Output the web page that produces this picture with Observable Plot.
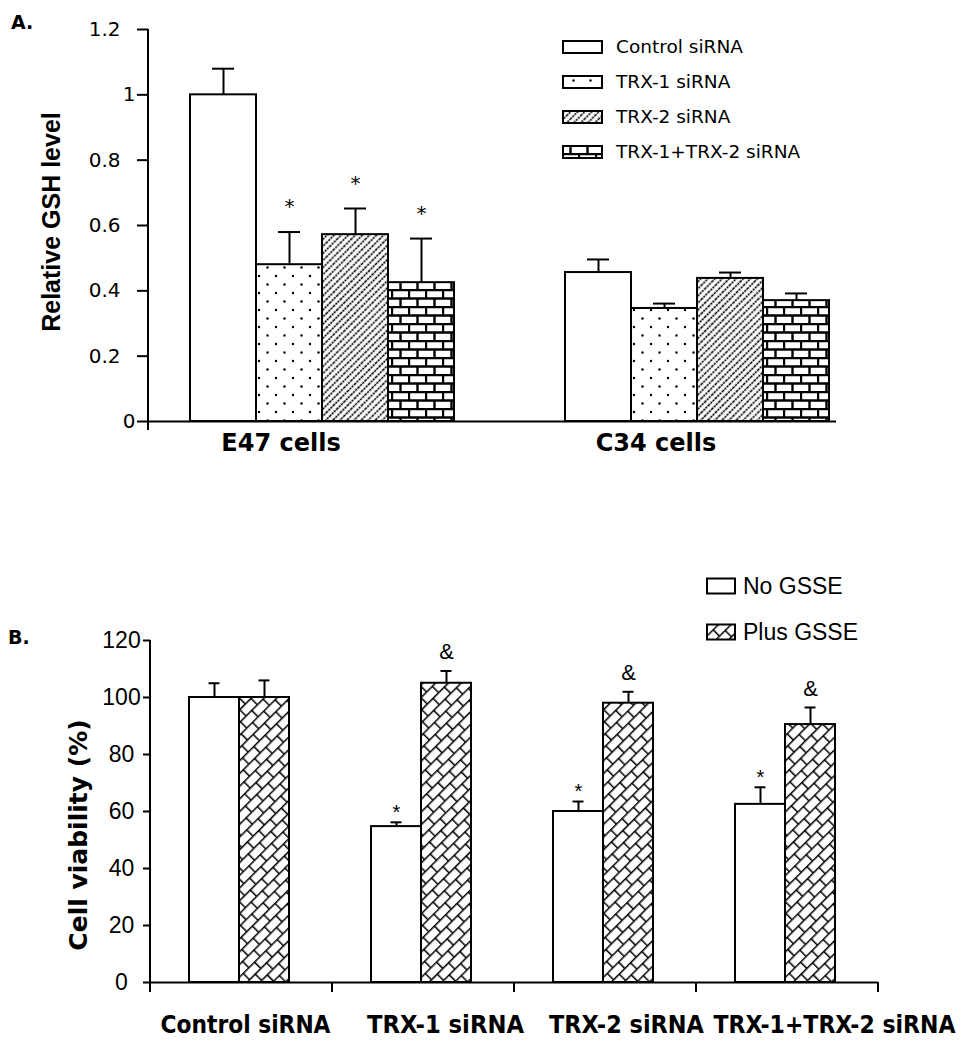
<!DOCTYPE html>
<html><head><meta charset="utf-8">
<script src="https://cdn.jsdelivr.net/npm/d3@7"></script>
<script src="https://cdn.jsdelivr.net/npm/@observablehq/plot@0.6"></script>
<style>
body{margin:0;background:#fff;}
#fig{position:relative;width:963px;height:1050px;overflow:hidden;background:#fff;}
#panelA{position:absolute;left:0;top:0;}
#panelB{position:absolute;left:0;top:540px;}
</style></head><body>
<svg width="0" height="0" style="position:absolute">
<defs>
 <pattern id="pDots" width="17" height="17" patternUnits="userSpaceOnUse">
   <rect width="17" height="17" fill="white"/>
   <circle cx="4" cy="4" r="1.2" fill="black"/>
   <circle cx="12.5" cy="12.5" r="1.2" fill="black"/>
 </pattern>
 <pattern id="pDiag" width="5" height="10" patternUnits="userSpaceOnUse" patternTransform="rotate(45)">
   <rect width="5" height="10" fill="white"/>
   <line x1="2.5" y1="0" x2="2.5" y2="10" stroke="black" stroke-width="1.6" stroke-dasharray="2.2 0.8"/>
 </pattern>
 <pattern id="pBrick" width="17" height="17" patternUnits="userSpaceOnUse">
   <rect width="17" height="17" fill="white"/>
   <path d="M0 1H17M0 9.5H17M1 1V9.5M9.5 9.5V18" stroke="black" stroke-width="2.4" fill="none"/>
 </pattern>
 <pattern id="pZig" width="16" height="18" patternUnits="userSpaceOnUse" patternTransform="rotate(-45)">
   <rect width="16" height="18" fill="white"/>
   <path d="M0 0.75H16M0 9.75H16M0.75 0.75V9.75M8.75 9.75V18.75" stroke="black" stroke-width="1.5" fill="none"/>
 </pattern>
</defs></svg>
<div id="fig"><div id="panelA"></div><div id="panelB"></div></div>
<script>
// ---------- Data: panel A ----------
const sirnas = ["Control siRNA", "TRX-1 siRNA", "TRX-2 siRNA", "TRX-1+TRX-2 siRNA"];
const cellLines = ["E47 cells", "C34 cells"];
const gshE47 = [1.00, 0.48, 0.572, 0.425];
const gshE47Err = [0.08, 0.10, 0.08, 0.135];
const gshE47Sig = ["", "*", "*", "*"];
const gshC34 = [0.456, 0.346, 0.438, 0.370];
const gshC34Err = [0.04, 0.015, 0.018, 0.022];
const gshC34Sig = ["", "", "", ""];
const gshTicks = [0, 0.2, 0.4, 0.6, 0.8, 1, 1.2];

// ---------- Data: panel B ----------
const treatments = ["Control siRNA", "TRX-1 siRNA", "TRX-2 siRNA", "TRX-1+TRX-2 siRNA"];
const gsse = ["No GSSE", "Plus GSSE"];
const viabNo = [100, 54.7, 60, 62.5];
const viabNoErr = [5, 1.5, 3.5, 6];
const viabNoSig = ["", "*", "*", "*"];
const viabPlus = [100, 105, 98, 90.5];
const viabPlusErr = [6, 4.3, 4, 6];
const viabPlusSig = ["", "&", "&", "&"];
const viabTicks = [0, 20, 40, 60, 80, 100, 120];

const rowsA = cellLines.flatMap((cell, ci) => sirnas.map((sirna, i) => ({
  cell, sirna,
  value: [gshE47, gshC34][ci][i],
  err: [gshE47Err, gshC34Err][ci][i],
  sig: [gshE47Sig, gshC34Sig][ci][i]
})));
const rowsB = treatments.flatMap((t, i) => gsse.map((g, gi) => ({
  t, g,
  value: [viabNo, viabPlus][gi][i],
  err: [viabNoErr, viabPlusErr][gi][i],
  sig: [viabNoSig, viabPlusSig][gi][i]
})));

const fillA = {"Control siRNA": "white", "TRX-1 siRNA": "url(#pDots)", "TRX-2 siRNA": "url(#pDiag)", "TRX-1+TRX-2 siRNA": "url(#pBrick)"};
const fillB = {"No GSSE": "white", "Plus GSSE": "url(#pZig)"};
const errTop = d => d.value + d.err;

// ---------- Panel A ----------
const A = Plot.plot({
  width: 963, height: 540,
  marginLeft: 148, marginRight: 65, marginTop: 29, marginBottom: 119,
  style: {fontFamily: "'DejaVu Sans', sans-serif", fontSize: "20px", color: "black", background: "transparent", overflow: "visible"},
  fx: {domain: cellLines, padding: 0, label: null},
  x: {domain: sirnas, paddingInner: 0, paddingOuter: 0.809, align: 0.38, axis: null},
  y: {domain: [0, 1.2]},
  color: {type: "identity"},
  marks: [
    Plot.axisFx({anchor: "bottom", tickSize: 0, tickPadding: 12, fontSize: 24, fontWeight: "bold", dx: -55, label: null}),
    Plot.axisY({ticks: gshTicks.filter(t => t !== 0 && t !== 1), tickSize: 11, tickPadding: 17, tickFormat: d3.format(".1f"), strokeWidth: 2, label: null}),
    Plot.axisY({ticks: gshTicks.filter(t => t === 0 || t === 1), tickSize: 11, tickPadding: 2, tickFormat: d => String(d), strokeWidth: 2, label: null}),
    Plot.barY(rowsA, {fx: "cell", x: "sirna", y: "value", fill: d => fillA[d.sirna], stroke: "black", strokeWidth: 2, inset: 0}),
    Plot.ruleX(rowsA, {fx: "cell", x: "sirna", y1: "value", y2: errTop, stroke: "black", strokeWidth: 2}),
    Plot.tickY(rowsA, {fx: "cell", x: "sirna", y: errTop, inset: 22, stroke: "black", strokeWidth: 2}),
    Plot.text(rowsA.filter(d => d.sig), {fx: "cell", x: "sirna", y: errTop, text: "sig", dy: -25, fontSize: 20, lineAnchor: "middle"}),
    Plot.ruleY([{cell: "E47 cells"}], {fx: "cell", y: () => 0, stroke: "black", strokeWidth: 2}),
    Plot.ruleY([{cell: "C34 cells"}], {fx: "cell", y: () => 0, stroke: "black", strokeWidth: 2, insetRight: 62})
  ]
});
document.getElementById("panelA").appendChild(A);

// ---------- Panel B ----------
const nudgeB = [4, 22, 21, 47];
const maxWidthB = [170, 157, 155, 242];
const B = Plot.plot({
  width: 963, height: 510,
  marginLeft: 149, marginRight: 84, marginTop: 100, marginBottom: 68,
  style: {fontFamily: "'Liberation Sans', Arial, sans-serif", fontSize: "23px", color: "black", background: "transparent", overflow: "visible"},
  fx: {domain: treatments, padding: 0, label: null},
  x: {domain: gsse, paddingInner: 0, paddingOuter: 0.789, align: 0.48, axis: null},
  y: {domain: [0, 120]},
  color: {type: "identity"},
  marks: [
    ...treatments.map((t, i) => Plot.axisFx({ticks: [t], anchor: "bottom", tickSize: 0, tickPadding: 50, lineAnchor: "bottom", fontSize: 30, fontWeight: "bold", fontFamily: "'Liberation Sans Narrow', 'DejaVu Sans Condensed', 'Liberation Sans', sans-serif", dx: nudgeB[i], label: null})),
    Plot.axisY({ticks: viabTicks, tickSize: 7, tickPadding: 22, textAnchor: "middle", strokeWidth: 2, label: null}),
    Plot.barY(rowsB, {fx: "t", x: "g", y: "value", fill: d => fillB[d.g], stroke: "black", strokeWidth: 2, inset: 0}),
    Plot.ruleX(rowsB, {fx: "t", x: "g", y1: "value", y2: errTop, stroke: "black", strokeWidth: 2}),
    Plot.tickY(rowsB, {fx: "t", x: "g", y: errTop, inset: 19.5, stroke: "black", strokeWidth: 2}),
    Plot.text(rowsB.filter(d => d.sig === "*"), {fx: "t", x: "g", y: errTop, text: "sig", dy: -10, fontSize: 20, lineAnchor: "middle"}),
    Plot.text(rowsB.filter(d => d.sig === "&"), {fx: "t", x: "g", y: errTop, text: "sig", dy: -19, fontSize: 22, lineAnchor: "middle"}),
    Plot.ruleY(treatments.map(t => ({t})), {fx: "t", y: () => 0, stroke: "black", strokeWidth: 2})
  ]
});
document.getElementById("panelB").appendChild(B);

// ---------- Axis lines, legends, titles (using the plots' scales) ----------
function decorate(svgNode, opts) {
  const svg = d3.select(svgNode);
  const y = svgNode.scale("y"), fx = svgNode.scale("fx");
  const x0 = fx.apply(fx.domain[0]);
  const yTop = y.apply(y.domain[1]), yBase = y.apply(0);
  const g = svg.append("g").attr("stroke", "black").attr("stroke-width", 2);
  g.append("line").attr("x1", x0).attr("x2", x0).attr("y1", yTop).attr("y2", yBase + opts.ext);
  if (opts.bandTicks) {
    for (const d of fx.domain) {
      const xe = fx.apply(d) + fx.bandwidth;
      g.append("line").attr("x1", xe).attr("x2", xe).attr("y1", yBase).attr("y2", yBase + opts.ext);
    }
  }
  svg.append("text")
    .attr("transform", `translate(${opts.titleX},${(yTop + yBase) / 2 + opts.titleDy}) rotate(-90)`)
    .attr("text-anchor", "middle")
    .style("font-family", opts.titleFont).style("font-weight", "bold").style("font-size", opts.titleSize + "px")
    .attr("fill", "black").text(opts.title);
  svg.append("text").attr("x", opts.letterX).attr("y", opts.letterY).attr("text-anchor", "start")
    .style("font-family", "'DejaVu Sans', sans-serif").style("font-weight", "bold").style("font-size", "19px")
    .attr("fill", "black").text(opts.letter);
  const lg = svg.append("g");
  opts.legend.forEach((item, i) => {
    const cy = opts.legY0 + i * opts.legStep;
    lg.append("rect").attr("x", opts.legX).attr("y", cy - opts.boxH / 2).attr("width", opts.boxW).attr("height", opts.boxH)
      .attr("fill", item.fill).attr("stroke", "black").attr("stroke-width", 2);
    lg.append("text").attr("x", opts.legX + opts.boxW + opts.gap).attr("y", cy).attr("dy", "0.35em").attr("text-anchor", "start")
      .style("font-family", opts.legFont).style("font-size", opts.legSize + "px").attr("fill", "black").text(item.label);
  });
}

decorate(A, {
  ext: 9, bandTicks: false,
  title: "Relative GSH level", titleX: 60, titleDy: -3, titleFont: "'Liberation Sans', Arial, sans-serif", titleSize: 25,
  letter: "A.", letterX: 11, letterY: 29,
  legend: sirnas.map(s => ({label: s, fill: fillA[s]})),
  legX: 563, legY0: 47, legStep: 35, boxW: 39, boxH: 12, gap: 14,
  legFont: "'DejaVu Sans', sans-serif", legSize: 18.5
});
decorate(B, {
  ext: 10, bandTicks: true,
  title: "Cell viability (%)", titleX: 87, titleDy: 24, titleFont: "'DejaVu Sans', sans-serif", titleSize: 25,
  letter: "B.", letterX: 8, letterY: 104,
  legend: gsse.map(s => ({label: s, fill: fillB[s]})),
  legX: 707, legY0: 46, legStep: 46, boxW: 28, boxH: 15, gap: 8,
  legFont: "'Liberation Sans', Arial, sans-serif", legSize: 23
});

// if no condensed font is installed, shrink the category labels to the reference widths
d3.select(B).selectAll('[aria-label="fx-axis tick label"] text').each(function () {
  const i = treatments.indexOf(this.textContent);
  if (i < 0) return;
  const len = this.getComputedTextLength();
  if (len > maxWidthB[i]) this.style.fontSize = (30 * maxWidthB[i] / len).toFixed(2) + "px";
});
</script>
</body></html>
